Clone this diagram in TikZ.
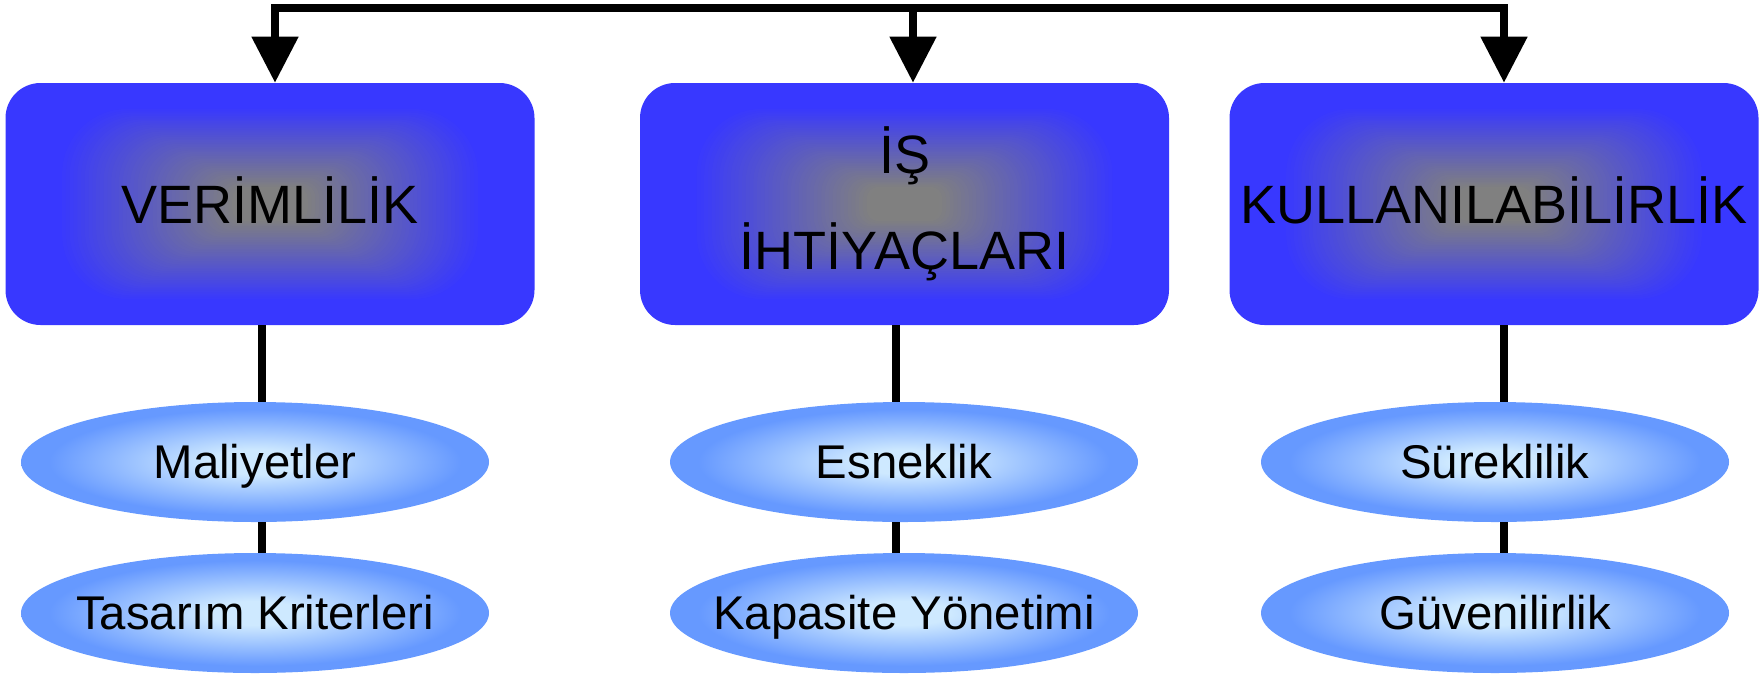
\documentclass[tikz,border=0pt]{standalone}
\usepackage{fontspec}
\setmainfont{Liberation Sans}
\usetikzlibrary{shapes.geometric,arrows.meta,calc}
\definecolor{boxblue}{RGB}{56,56,255}
\definecolor{boxgray}{RGB}{128,128,128}
\definecolor{ellblue}{RGB}{102,153,255}
\definecolor{elllight}{RGB}{206,233,255}
\pgfdeclareradialshading{ellshade}{\pgfpoint{0bp}{0bp}}{color(0bp)=(elllight); color(5bp)=(elllight); color(22bp)=(ellblue); color(50bp)=(ellblue)}
\newcommand{\zw}[1]{\makebox[0pt]{#1}}
\newcommand{\boxgrad}{%
  \foreach \i in {1,...,70}{%
    \pgfmathsetmacro\tt{\i/70}%
    \pgfmathsetmacro\pp{max(0,min(100,(\tt-0.2)/0.66*100))}%
    \pgfmathsetmacro\rr{max(0.5,62*(1-\tt))}%
    \fill[rounded corners=\rr pt, boxgray!\pp!boxblue]
      ($(path picture bounding box.center)!{1-\tt}!(path picture bounding box.south west)$)
      rectangle
      ($(path picture bounding box.center)!{1-\tt}!(path picture bounding box.north east)$);
  }}
\begin{document}
\begin{tikzpicture}[x=0.75pt,y=-0.75pt,
  topbox/.style={rectangle, rounded corners=26.25pt, minimum width=396.75pt,
    minimum height=181.5pt, inner sep=0pt, fill=boxblue, path picture={\boxgrad},
    font=\fontsize{40.5}{72}\selectfont, align=center},
  oneline/.style={text height=29pt, text depth=0pt},
  subell/.style={ellipse, minimum width=351pt, minimum height=90pt, inner sep=0pt,
    shading=ellshade, font=\fontsize{35.5}{42}\selectfont,
    text height=25.4pt, text depth=0pt},
  wire/.style={line width=6pt, black},
  arrowwire/.style={line width=6pt, black, line join=miter,
    -{Triangle[width=33.75pt,length=34.5pt]}}
]
\useasboundingbox (0,0) rectangle (1762,675);

% top boxes
\node[topbox, oneline] (b1) at (270,204) {VERİMLİLİK};
\node[topbox] (b2) at (904.5,204) {İŞ\\İHTİYAÇLARI};
\node[topbox, oneline] (b3) at (1494,204) {KULLANILABİLİRLİK};

% ellipses
\node[subell] (e1) at (255,462) {\zw{Maliyetler}};
\node[subell] (f1) at (255,613) {\zw{Tasarım Kriterleri}};
\node[subell] (e2) at (904,462) {\zw{Esneklik}};
\node[subell] (f2) at (904,613) {\zw{Kapasite Yönetimi}};
\node[subell] (e3) at (1495,462) {\zw{Süreklilik}};
\node[subell] (f3) at (1495,613) {\zw{Güvenilirlik}};

% top distribution bar
\coordinate (j1) at ($(b1.north)+(5,-75)$);
\coordinate (j2) at ($(b2.north)+(8.5,-75)$);
\coordinate (j3) at ($(b3.north)+(10,-75)$);
\draw[arrowwire] (j2) -- (j1) -- (j1 |- b1.north);
\draw[arrowwire] (j2) -- (j3) -- (j3 |- b3.north);
\draw[arrowwire] (j2) -- (j2 |- b2.north);

% vertical links
\coordinate (l1) at ($(b1.south)+(-8,0)$);
\coordinate (l2) at ($(b2.south)+(-8.5,0)$);
\coordinate (l3) at ($(b3.south)+(10,0)$);
\draw[wire] (l1) -- (l1 |- e1.north);
\draw[wire] (l1 |- e1.south) -- (l1 |- f1.north);
\draw[wire] (l2) -- (l2 |- e2.north);
\draw[wire] (l2 |- e2.south) -- (l2 |- f2.north);
\draw[wire] (l3) -- (l3 |- e3.north);
\draw[wire] (l3 |- e3.south) -- (l3 |- f3.north);
\end{tikzpicture}
\end{document}
